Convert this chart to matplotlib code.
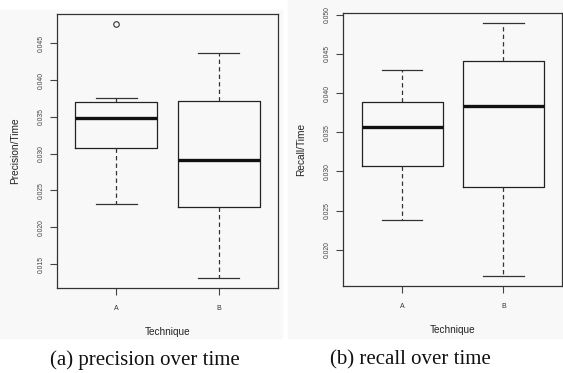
import matplotlib
matplotlib.use("Agg")
import matplotlib.pyplot as plt
from matplotlib.patches import Rectangle

# ---- data ----
techniques = ["A", "B"]

# Precision/Time box statistics (panel a)
prec_med = [0.0349, 0.0292]
prec_q1 = [0.0307, 0.0228]
prec_q3 = [0.0370, 0.0371]
prec_whislo = [0.0232, 0.0131]
prec_whishi = [0.0375, 0.0437]
prec_fliers = [[0.0476], []]
prec_yticks = [0.015, 0.020, 0.025, 0.030, 0.035, 0.040, 0.045]

# Recall/Time box statistics (panel b)
rec_med = [0.0357, 0.0384]
rec_q1 = [0.0307, 0.0280]
rec_q3 = [0.0388, 0.0441]
rec_whislo = [0.0238, 0.0166]
rec_whishi = [0.0430, 0.0490]
rec_fliers = [[], []]
rec_yticks = [0.020, 0.025, 0.030, 0.035, 0.040, 0.045, 0.050]

captions = ["(a) precision over time", "(b) recall over time"]
ylabels = ["Precision/Time", "Recall/Time"]
xlabel = "Technique"

W, H = 563, 373
fig = plt.figure(figsize=(W / 100, H / 100), dpi=100)
fig.patch.set_facecolor("white")

bg = "#f9f8f8"
# panel backgrounds (pixel coords)
fig.patches.append(Rectangle((0 / W, 1 - 338 / H), 282 / W, 328 / H,
                             transform=fig.transFigure, color=bg, zorder=-5))
fig.patches.append(Rectangle((288 / W, 1 - 338 / H), (W - 288) / W, 338 / H,
                             transform=fig.transFigure, color=bg, zorder=-5))


def make_axes(l, t, r, b):
    return fig.add_axes([l / W, 1 - b / H, (r - l) / W, (b - t) / H])


ax1 = make_axes(57, 14, 278, 288)
ax2 = make_axes(343.3, 12.7, 562.3, 286)

sans = "Liberation Sans"


def draw(ax, med, q1, q3, lo, hi, fl, yticks, ylim, ylabel):
    stats = []
    for i in range(len(techniques)):
        stats.append(dict(med=med[i], q1=q1[i], q3=q3[i], whislo=lo[i],
                          whishi=hi[i], fliers=fl[i], label=techniques[i]))
    ax.bxp(stats, positions=[1, 2], widths=0.8, showfliers=True,
           boxprops=dict(color="#222222", linewidth=0.9),
           medianprops=dict(color="#111111", linewidth=2.4, solid_capstyle="butt"),
           whiskerprops=dict(color="#333333", linewidth=0.9, linestyle=(0, (3.5, 2.5))),
           capprops=dict(color="#333333", linewidth=0.9),
           capwidths=0.4,
           flierprops=dict(marker="o", markerfacecolor="none",
                           markeredgecolor="#333333", markersize=4, markeredgewidth=0.8))
    ax.set_facecolor(bg)
    ax.set_xlim(0.42, 2.58)
    ax.set_ylim(*ylim)
    ax.set_yticks(yticks)
    ax.set_yticklabels([f"{v:.3f}" for v in yticks], rotation=90,
                       fontsize=4.9, color="#444444", family=sans, va="center")
    ax.set_xticks([1, 2])
    ax.set_xticklabels(techniques, fontsize=5, color="#333333", family=sans)
    ax.tick_params(axis="y", length=5, width=0.8, color="#444444", pad=4)
    ax.tick_params(axis="x", length=5, width=0.8, color="#444444", pad=7)
    for s in ax.spines.values():
        s.set_color("#333333")
        s.set_linewidth(0.9)
    ax.set_ylabel(ylabel, fontsize=7.3, family=sans, color="#222222")
    ax.set_xlabel(xlabel, fontsize=7.2, family=sans, color="#222222")


draw(ax1, prec_med, prec_q1, prec_q3, prec_whislo, prec_whishi, prec_fliers,
     prec_yticks, (0.01174, 0.04898), ylabels[0])
draw(ax2, rec_med, rec_q1, rec_q3, rec_whislo, rec_whishi, rec_fliers,
     rec_yticks, (0.01536, 0.05026), ylabels[1])

ax1.yaxis.set_label_coords((15 - 57) / 221, 0.5)
ax2.yaxis.set_label_coords((300.7 - 343.3) / 219, 0.5)
ax1.xaxis.set_label_coords(0.5, (288 - 332) / 274)
ax2.xaxis.set_label_coords(0.5, (286 - 330) / 273.3)
ax1.xaxis.label.set_va("center")
ax2.xaxis.label.set_va("center")
ax1.yaxis.label.set_va("center")
ax2.yaxis.label.set_va("center")

fig.text(145 / W, 1 - 360 / H, captions[0], family="Liberation Serif",
         fontsize=15, ha="center", va="center", color="#111111")
fig.text(410 / W, 1 - 360 / H, captions[1], family="Liberation Serif",
         fontsize=15, ha="center", va="center", color="#111111")

fig.savefig("out.png", dpi=100, facecolor=fig.get_facecolor())
